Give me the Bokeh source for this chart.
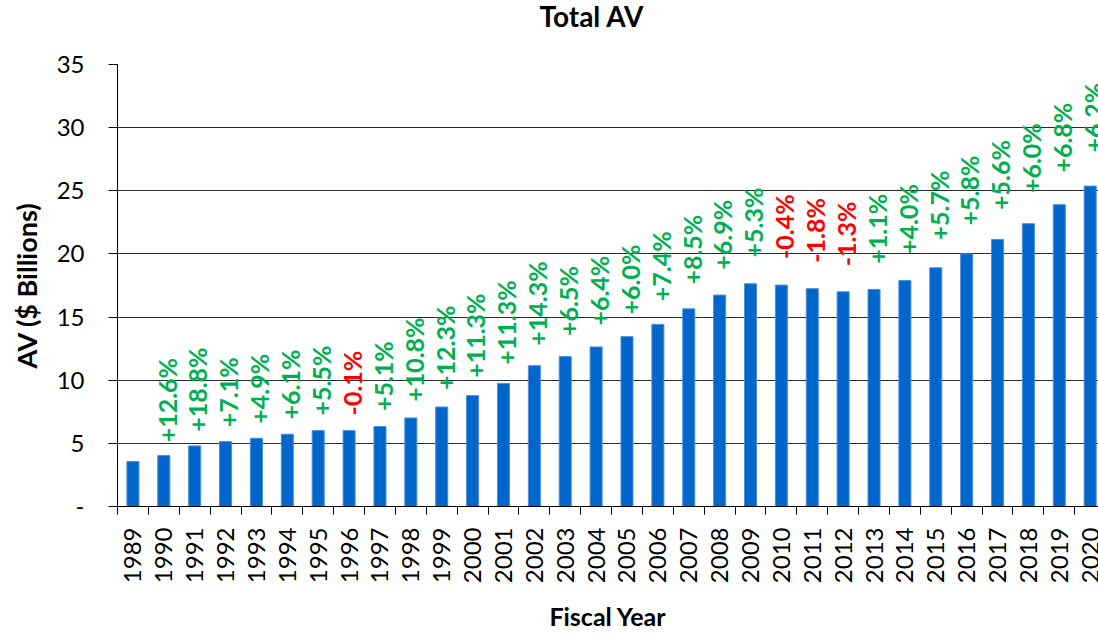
import math
from bokeh.plotting import figure
from bokeh.models import Range1d, FixedTicker, LinearAxis, Title, ColumnDataSource
from bokeh.core.properties import value
from bokeh.embed import file_html
from bokeh.resources import INLINE

years = ["1989", "1990", "1991", "1992", "1993", "1994", "1995", "1996", "1997", "1998",
         "1999", "2000", "2001", "2002", "2003", "2004", "2005", "2006", "2007", "2008",
         "2009", "2010", "2011", "2012", "2013", "2014", "2015", "2016", "2017", "2018",
         "2019", "2020"]
total_av = [3.56, 4.03, 4.80, 5.14, 5.40, 5.72, 6.01, 6.01, 6.33, 7.01,
            7.88, 8.78, 9.75, 11.15, 11.87, 12.63, 13.45, 14.42, 15.65, 16.74,
            17.64, 17.53, 17.25, 17.00, 17.19, 17.90, 18.90, 20.00, 21.15, 22.39,
            23.90, 25.37]
pct_change = [None, 12.6, 18.8, 7.1, 4.9, 6.1, 5.5, -0.1, 5.1, 10.8,
              12.3, 11.3, 11.3, 14.3, 6.5, 6.4, 6.0, 7.4, 8.5, 6.9,
              5.3, -0.4, -1.8, -1.3, 1.1, 4.0, 5.7, 5.8, 5.6, 6.0,
              6.8, 6.2]
y_ticks = [0, 5, 10, 15, 20, 25, 30, 35]

FONT = "Lato"
BAR = "#0066CC"
GREEN = "#00B050"
RED = "#FF0000"

idx = list(range(len(years)))

p = figure(width=1098, height=634, x_range=Range1d(-0.5, 31.27), y_range=Range1d(0, 35),
           output_backend="svg", toolbar_location=None,
           min_border_left=117, min_border_right=0, min_border_top=0, min_border_bottom=0)
p.outline_line_color = None
p.background_fill_color = "white"
p.border_fill_color = "white"

p.title = Title(text="Total AV", align="left", offset=422, standoff=-8,
                vertical_align="bottom", text_font=FONT,
                text_font_size="28px", text_font_style="bold", text_color="black")
# blank spacer between the title and the plot area
p.add_layout(Title(text=" ", text_font_size="10px", standoff=23), "above")

# bars
src = ColumnDataSource(dict(x=idx, top=total_av))
p.vbar(x="x", top="top", width=0.39, bottom=0, source=src,
       fill_color=BAR, line_color="#4A8FDB", line_width=1)

# percent labels
lx, ly, lt, lc = [], [], [], []
for i, (v, c) in enumerate(zip(total_av, pct_change)):
    if c is None:
        continue
    lx.append(i + 0.09)
    ly.append(v * 1.075 + 0.75)
    lt.append(("+" if c >= 0 else "") + f"{c:.1f}%")
    lc.append(GREEN if c >= 0 else RED)
lsrc = ColumnDataSource(dict(x=lx, y=ly, t=lt, c=lc))
p.text(x="x", y="y", text="t", text_color="c", source=lsrc, angle=math.pi / 2,
       text_align="left", text_baseline="middle", text_font=value(FONT),
       text_font_size="25px", text_font_style="bold")

# y axis
ya = p.yaxis[0]
ya.ticker = FixedTicker(ticks=y_ticks)
ya.major_label_overrides = {0: "-"}
ya.major_tick_out = 9
ya.major_tick_in = 0
ya.minor_tick_line_color = None
ya.major_label_standoff = 24
ya.major_label_text_font = FONT
ya.major_label_text_font_size = "24px"
ya.major_label_text_color = "black"
ya.axis_line_color = "black"
ya.major_tick_line_color = "black"
ya.axis_label = "AV ($ Billions)"
ya.axis_label_text_font = FONT
ya.axis_label_text_font_size = "27px"
ya.axis_label_text_font_style = "bold"
ya.axis_label_text_color = "black"
ya.axis_label_standoff = 11

p.ygrid.ticker = FixedTicker(ticks=y_ticks)
p.ygrid.grid_line_color = "#2b2b2b"
p.ygrid.grid_line_width = 1
p.xgrid.grid_line_color = None

# x axis: tick marks at category boundaries
xa = p.xaxis[0]
xa.ticker = FixedTicker(ticks=[i - 0.5 for i in range(len(years) + 1)])
xa.major_label_overrides = {i - 0.5: "" for i in range(len(years) + 1)}
xa.major_label_text_font_size = "1px"
xa.major_label_standoff = 0
xa.major_tick_out = 8
xa.major_tick_in = 0
xa.minor_tick_line_color = None
xa.axis_line_color = "black"
xa.major_tick_line_color = "black"

# x axis: year labels at category centres
xl = LinearAxis(ticker=FixedTicker(ticks=idx),
                major_label_overrides={i: y for i, y in zip(idx, years)})
xl.axis_line_color = None
xl.major_tick_line_color = None
xl.minor_tick_line_color = None
xl.major_label_orientation = math.pi / 2
xl.major_label_standoff = 7
xl.major_label_text_font = FONT
xl.major_label_text_font_size = "24px"
xl.major_label_text_color = "black"
xl.axis_label = "Fiscal Year"
xl.axis_label_text_font = FONT
xl.axis_label_text_font_size = "25px"
xl.axis_label_text_font_style = "bold"
xl.axis_label_text_color = "black"
xl.axis_label_standoff = 15
p.add_layout(xl, "below")

open("out.html", "w").write(file_html(p, INLINE))
